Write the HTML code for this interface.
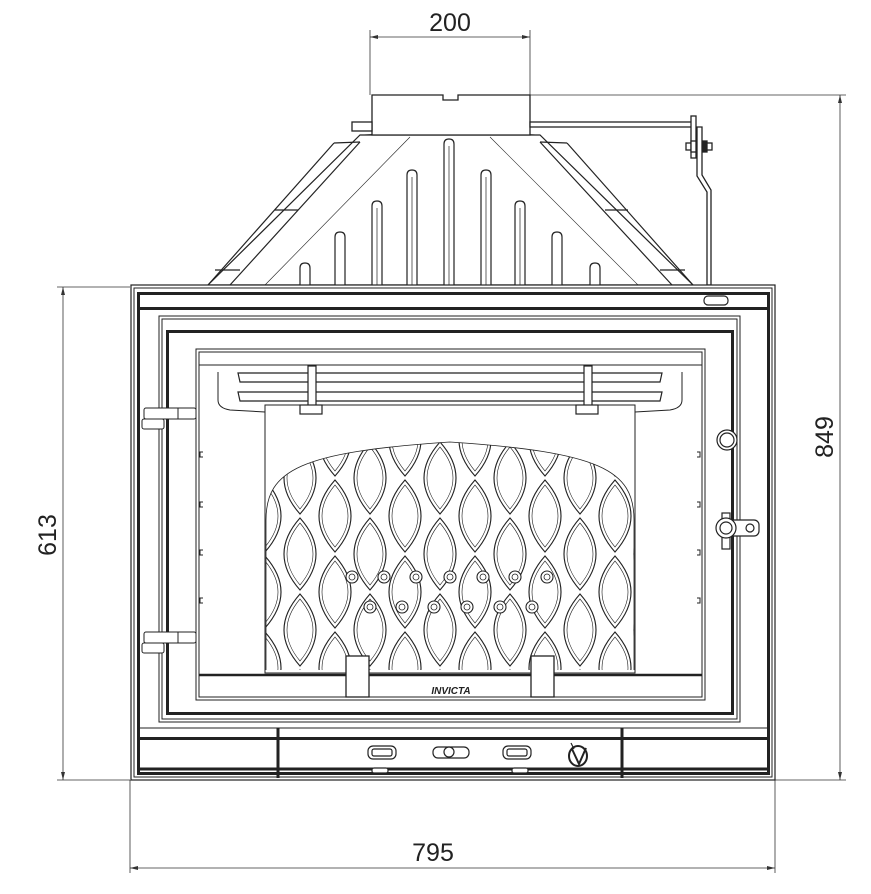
<!DOCTYPE html>
<html><head><meta charset="utf-8"><style>
html,body{margin:0;padding:0;background:#fff;width:871px;height:894px;overflow:hidden}
svg{display:block}
text{font-family:"Liberation Sans",sans-serif;fill:#222}
</style></head><body>
<svg width="871" height="894" viewBox="0 0 871 894" xmlns="http://www.w3.org/2000/svg">
<defs>
<pattern id="lens" x="265" y="440" width="70" height="76" patternUnits="userSpaceOnUse">
<g fill="none" stroke="#222" stroke-width="1.1">
<path d="M0,-36 Q32,0 0,36 Q-32,0 0,-36Z"/>
<path d="M70,-36 Q102,0 70,36 Q38,0 70,-36Z"/>
<path d="M0,40 Q32,76 0,112 Q-32,76 0,40Z"/>
<path d="M70,40 Q102,76 70,112 Q38,76 70,40Z"/>
<path d="M35,2 Q67,38 35,74 Q3,38 35,2Z"/>
<path d="M35,78 Q67,114 35,150 Q3,114 35,78Z"/>
<path d="M35,-74 Q67,-38 35,-2 Q3,-38 35,-74Z"/>
<path d="M0,-31 Q26,0 0,31 Q-26,0 0,-31Z" stroke-width="0.6"/>
<path d="M70,-31 Q96,0 70,31 Q44,0 70,-31Z" stroke-width="0.6"/>
<path d="M0,45 Q26,76 0,107 Q-26,76 0,45Z" stroke-width="0.6"/>
<path d="M70,45 Q96,76 70,107 Q44,76 70,45Z" stroke-width="0.6"/>
<path d="M35,7 Q61,38 35,69 Q9,38 35,7Z" stroke-width="0.6"/>
</g>
</pattern>
<clipPath id="arch"><path d="M266,670 V520 C266,470 300,452 450,442 C600,452 634,470 634,520 V670 Z"/></clipPath>
</defs>

<g stroke="#333" stroke-width="0.8" fill="none">
<line x1="370" y1="30" x2="370" y2="95"/><line x1="530" y1="30" x2="530" y2="95"/>
<line x1="370" y1="37" x2="530" y2="37"/>
<line x1="530" y1="95" x2="846" y2="95"/><line x1="775" y1="780" x2="846" y2="780"/>
<line x1="840" y1="95" x2="840" y2="780"/>
<line x1="57" y1="287" x2="130" y2="287"/><line x1="57" y1="780" x2="130" y2="780"/>
<line x1="63" y1="287" x2="63" y2="780"/>
<line x1="130" y1="780" x2="130" y2="873"/><line x1="775" y1="780" x2="775" y2="873"/>
<line x1="130" y1="868" x2="775" y2="868"/>
</g>
<g fill="#333">
<path d="M370,37 l8,-2 v4z"/><path d="M530,37 l-8,-2 v4z"/>
<path d="M840,95 l-2,8 h4z"/><path d="M840,780 l-2,-8 h4z"/>
<path d="M63,287 l-2,8 h4z"/><path d="M63,780 l-2,-8 h4z"/>
<path d="M130,868 l8,-2 v4z"/><path d="M775,868 l-8,-2 v4z"/>
</g>
<text x="450" y="31" font-size="25" text-anchor="middle">200</text>
<text x="433" y="861" font-size="25" text-anchor="middle">795</text>
<text transform="translate(833,437) rotate(-90)" font-size="25" text-anchor="middle">849</text>
<text transform="translate(56,535) rotate(-90)" font-size="25" text-anchor="middle">613</text>

<g fill="none" stroke="#222" stroke-width="1.2">
<path d="M360,135 L540,135 L693,285 L208,285 Z" fill="#fff"/>
<path d="M334,143 L208,285"/><path d="M360,142 L230,285"/>
<path d="M567,143 L693,285"/><path d="M540,142 L672,285"/>
<path d="M334,143 L360,142"/><path d="M567,143 L540,142"/>
<path d="M275,210 L298,210"/><path d="M605,210 L628,210"/>
<path d="M215,270 L240,270"/><path d="M660,270 L685,270"/>
<path d="M410,137 L265,285" stroke-width="0.6"/><path d="M490,137 L638,285" stroke-width="0.6"/>
<path d="M360,135 Q450,130 540,135" stroke-width="0.6"/>
</g>
<g fill="#fff" stroke="#222" stroke-width="1.2">
<path d="M444,285 V144 q0,-5 5,-5 q5,0 5,5 V285"/>
<path d="M407,285 V175 q0,-5 5,-5 q5,0 5,5 V285"/>
<path d="M481,285 V175 q0,-5 5,-5 q5,0 5,5 V285"/>
<path d="M372,285 V206 q0,-5 5,-5 q5,0 5,5 V285"/>
<path d="M515,285 V206 q0,-5 5,-5 q5,0 5,5 V285"/>
<path d="M335,285 V237 q0,-5 5,-5 q5,0 5,5 V285"/>
<path d="M552,285 V237 q0,-5 5,-5 q5,0 5,5 V285"/>
<path d="M300,285 V268 q0,-5 5,-5 q5,0 5,5 V285"/>
<path d="M590,285 V268 q0,-5 5,-5 q5,0 5,5 V285"/>
</g>
<g stroke="#222" stroke-width="0.7"><line x1="449" y1="146" x2="449" y2="285"/><line x1="412" y1="177" x2="412" y2="285"/><line x1="486" y1="177" x2="486" y2="285"/><line x1="377" y1="208" x2="377" y2="285"/><line x1="520" y1="208" x2="520" y2="285"/></g>

<g fill="#fff" stroke="#222" stroke-width="1.3">
<path d="M372,135 L372,95 L443,95 L443,100 L458,100 L458,95 L530,95 L530,135 Z"/>
<rect x="352" y="122" width="20" height="9"/>
<rect x="530" y="122" width="163" height="5"/>
<rect x="691" y="116" width="5" height="42"/>
<path d="M697,127 h5 v48 l9,15 v95 h-4 v-93 l-10,-16z"/>
<rect x="686" y="143" width="5" height="7"/><rect x="691" y="141" width="5" height="11"/>
<rect x="703" y="141" width="4" height="11" fill="#222"/><rect x="707" y="143" width="5" height="7"/>
</g>

<g fill="none" stroke="#222">
<rect x="131" y="285" width="644" height="495" stroke-width="1.2" fill="#fff"/>
<rect x="134" y="288" width="638" height="489" stroke-width="1"/>
<rect x="138.5" y="293.5" width="630" height="480" stroke-width="3"/>
<line x1="138" y1="308.5" x2="769" y2="308.5" stroke-width="3"/>
<rect x="159" y="316" width="581" height="406" stroke-width="1"/>
<rect x="162" y="319" width="575" height="400" stroke-width="1"/>
<rect x="167.5" y="331.5" width="565" height="382" stroke-width="3"/>
<rect x="196" y="349" width="509" height="351" stroke-width="1"/>
<rect x="199" y="352" width="503" height="345" stroke-width="1"/>
<line x1="199" y1="365" x2="702" y2="365" stroke-width="1"/>
<line x1="138" y1="728" x2="769" y2="728" stroke-width="1"/>
<line x1="138" y1="738.5" x2="769" y2="738.5" stroke-width="3"/>
<line x1="138" y1="769" x2="769" y2="769" stroke-width="3"/>
<line x1="278" y1="728" x2="278" y2="778" stroke-width="3"/>
<line x1="622" y1="728" x2="622" y2="778" stroke-width="3"/>
<rect x="704" y="296" width="24" height="9" rx="4" stroke-width="1.2"/>
</g>

<g fill="none" stroke="#222" stroke-width="1">
<rect x="265" y="405" width="370" height="268"/>
<path d="M218,372 V400 Q218,408 230,410 L265,412"/>
<path d="M682,372 V400 Q682,408 670,410 L635,412"/>
</g>
<g clip-path="url(#arch)"><rect x="265" y="430" width="370" height="245" fill="url(#lens)"/></g>
<path d="M266,670 V520 C266,470 300,452 450,442 C600,452 634,470 634,520 V670" fill="none" stroke="#222" stroke-width="0.8"/>
<g fill="#fff" stroke="#222" stroke-width="1.1">
<circle cx="352" cy="577" r="6"/><circle cx="384" cy="577" r="6"/><circle cx="416" cy="577" r="6"/><circle cx="450" cy="577" r="6"/><circle cx="483" cy="577" r="6"/><circle cx="515" cy="577" r="6"/><circle cx="547" cy="577" r="6"/>
<circle cx="370" cy="607" r="6"/><circle cx="402" cy="607" r="6"/><circle cx="434" cy="607" r="6"/><circle cx="467" cy="607" r="6"/><circle cx="500" cy="607" r="6"/><circle cx="532" cy="607" r="6"/>
</g>
<g fill="none" stroke="#222" stroke-width="0.8">
<circle cx="352" cy="577" r="3"/><circle cx="384" cy="577" r="3"/><circle cx="416" cy="577" r="3"/><circle cx="450" cy="577" r="3"/><circle cx="483" cy="577" r="3"/><circle cx="515" cy="577" r="3"/><circle cx="547" cy="577" r="3"/>
<circle cx="370" cy="607" r="3"/><circle cx="402" cy="607" r="3"/><circle cx="434" cy="607" r="3"/><circle cx="467" cy="607" r="3"/><circle cx="500" cy="607" r="3"/><circle cx="532" cy="607" r="3"/>
</g>
<g fill="#fff" stroke="#222" stroke-width="1.2">
<path d="M238,373 H662 L660,382 H240Z"/>
<path d="M238,392 H662 L660,401 H240Z"/>
<rect x="308" y="366" width="8" height="44"/><rect x="584" y="366" width="8" height="44"/>
<rect x="300" y="405" width="22" height="9"/><rect x="576" y="405" width="22" height="9"/>
</g>
<g fill="#fff" stroke="#222">
<rect x="199" y="675" width="503" height="22" stroke-width="1"/>
<line x1="199" y1="675" x2="702" y2="675" stroke-width="2.5"/>
<rect x="346" y="656" width="23" height="41" stroke-width="1.3"/>
<rect x="531" y="656" width="23" height="41" stroke-width="1.3"/>
</g>
<text x="451" y="694" font-size="10" font-weight="bold" font-style="italic" text-anchor="middle">INVICTA</text>

<g fill="#fff" stroke="#222" stroke-width="1">
<rect x="144" y="408" width="52" height="11" rx="2"/><rect x="142" y="419" width="22" height="10" rx="2"/>
<rect x="144" y="632" width="52" height="11" rx="2"/><rect x="142" y="643" width="22" height="10" rx="2"/>
<line x1="178" y1="408" x2="178" y2="419"/><line x1="178" y1="632" x2="178" y2="643"/>
</g>
<g fill="#fff" stroke="#222" stroke-width="1.2">
<circle cx="727" cy="440" r="10"/><circle cx="727" cy="440" r="7"/>
<rect x="722" y="513" width="8" height="36"/>
<rect x="727" y="520" width="32" height="16" rx="5"/>
<circle cx="750" cy="528" r="4"/>
<circle cx="726" cy="528" r="10"/><circle cx="726" cy="528" r="6"/>
</g>
<g fill="none" stroke="#222" stroke-width="1">
<path d="M203,452h-3v5h3"/><path d="M203,502h-3v5h3"/><path d="M203,550h-3v5h3"/><path d="M203,598h-3v5h3"/>
<path d="M697,452h3v5h-3"/><path d="M697,502h3v5h-3"/><path d="M697,550h3v5h-3"/><path d="M697,598h3v5h-3"/>
</g>
<g fill="#fff" stroke="#222" stroke-width="1.2">
<rect x="368" y="746" width="28" height="13" rx="5"/><rect x="372" y="749" width="20" height="7" rx="2"/>
<rect x="433" y="747" width="36" height="11" rx="5"/><circle cx="449" cy="752" r="5"/>
<rect x="503" y="746" width="28" height="13" rx="5"/><rect x="507" y="749" width="20" height="7" rx="2"/>
<rect x="372" y="768" width="16" height="5" rx="2"/><rect x="512" y="768" width="16" height="5" rx="2"/>
<ellipse cx="578" cy="756" rx="9" ry="10" stroke-width="2"/>
<path d="M572,749 L579,764 L586,748" stroke-width="2" fill="none"/>
<path d="M571,743 L574,749" fill="none"/>
</g>
</svg>
</body></html>
